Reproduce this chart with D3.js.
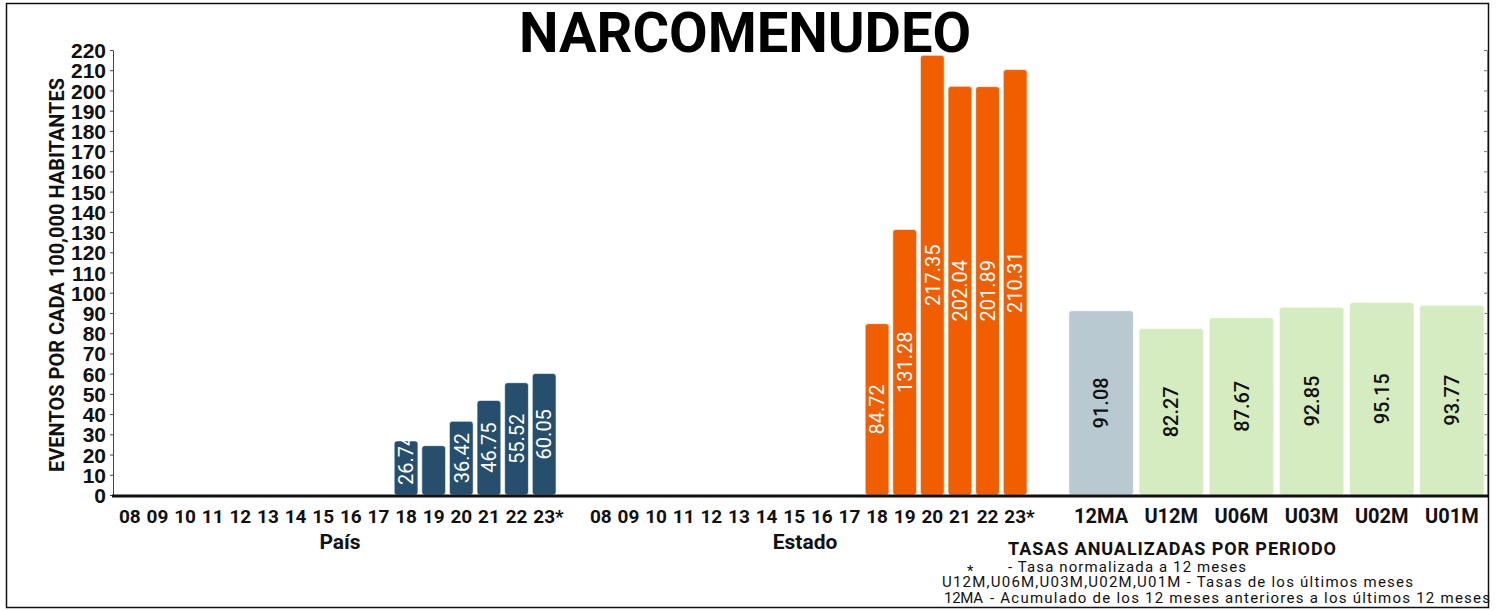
<!DOCTYPE html>
<html>
<head>
<meta charset="utf-8">
<script src="https://cdn.jsdelivr.net/npm/d3@7"></script>
<style>
  body { margin: 0; background: #fff; }
  svg { font-family: Roboto, "Noto Sans", sans-serif; }
</style>
</head>
<body>
<div id="chart"></div>
<script>
// Data
const years = ["08", "09", "10", "11", "12", "13", "14", "15", "16", "17", "18", "19", "20", "21", "22", "23*"];
const paisValues = [0, 0, 0, 0, 0, 0, 0, 0, 0, 0, 26.74, 24.4, 36.42, 46.75, 55.52, 60.05];
const estadoValues = [0, 0, 0, 0, 0, 0, 0, 0, 0, 0, 84.72, 131.28, 217.35, 202.04, 201.89, 210.31];
const periods = ["12MA", "U12M", "U06M", "U03M", "U02M", "U01M"];
const periodValues = [91.08, 82.27, 87.67, 92.85, 95.15, 93.77];
const yTicks = d3.range(0, 221, 10);

const width = 1498, height = 611;
const colPais = "#264f6d", colEstado = "#f05e00", col12MA = "#b9c9d2", colPeriod = "#d5ecc0";

const svg = d3.select("#chart").append("svg")
  .attr("width", width)
  .attr("height", height);

// frame
svg.append("rect")
  .attr("x", 6.5).attr("y", 3.5)
  .attr("width", 1482).attr("height", 604)
  .attr("fill", "none").attr("stroke", "#111").attr("stroke-width", 1.5);

const y = d3.scaleLinear().domain([0, 220]).range([495, 50]);
const xPais = d3.scaleBand().domain(years).range([116, 558]).paddingInner(0.14).paddingOuter(0.07);
const xEstado = d3.scaleBand().domain(years).range([587, 1029]).paddingInner(0.14).paddingOuter(0.07);
const xPeriod = d3.scaleBand().domain(periods).range([1066, 1487]).paddingInner(0.08).paddingOuter(0.04);

// Title
svg.append("text")
  .attr("x", 745).attr("y", 52)
  .attr("text-anchor", "middle")
  .style("font-size", "56px").style("font-weight", 700).style("fill", "#000")
  .text("NARCOMENUDEO");

// Left axis
const yAxis = svg.append("g")
  .attr("transform", "translate(113,0)")
  .call(d3.axisLeft(y).tickValues(yTicks).tickSize(3).tickPadding(4).tickSizeOuter(0));
yAxis.select(".domain").attr("stroke", "#444");
yAxis.selectAll(".tick line").attr("stroke", "#444");
yAxis.selectAll("text")
  .style("font-size", "21px").style("font-weight", 700).style("fill", "#111")
  .attr("dy", "0.36em");

svg.append("text")
  .attr("transform", "translate(64,275) rotate(-90)")
  .attr("text-anchor", "middle")
  .style("font-size", "20px").style("font-weight", 700).style("fill", "#111")
  .text("EVENTOS POR CADA 100,000 HABITANTES");

// Right axis (no labels)
const yAxisR = svg.append("g")
  .attr("transform", "translate(1487,0)")
  .call(d3.axisLeft(y).tickValues(yTicks).tickSize(3).tickFormat("").tickSizeOuter(0));
yAxisR.select(".domain").attr("stroke", "#777");
yAxisR.selectAll(".tick line").attr("stroke", "#777");

let clipId = 0;

function drawBars(scale, labels, values, fill, textFill, textWeight) {
  const g = svg.append("g");
  const items = labels.map((l, i) => ({ label: l, value: values[i] })).filter(d => d.value > 0);
  items.forEach(d => {
    const x0 = scale(d.label), w = scale.bandwidth();
    const y0 = y(d.value), h = y(0) - y(d.value);
    const id = "clip" + (clipId++);
    g.append("clipPath").attr("id", id)
      .append("rect").attr("x", x0).attr("y", y0).attr("width", w).attr("height", h);
    g.append("rect")
      .attr("x", x0).attr("y", y0)
      .attr("width", w).attr("height", h)
      .attr("rx", 3)
      .attr("fill", typeof fill === "function" ? fill(d) : fill)
      .attr("stroke", "#fff").attr("stroke-opacity", 0.6).attr("stroke-width", 1);

    const label = g.append("g")
      .attr("clip-path", "url(#" + id + ")")
      .append("text")
      .attr("text-anchor", "middle")
      .attr("dy", "0.36em")
      .style("font-size", "20px").style("font-weight", textWeight).style("fill", textFill)
      .text(d.value.toFixed(2));
    const len = label.node().getComputedTextLength();
    if (h < len) { label.remove(); return; }
    // keep the label at least 10px above the baseline
    const cy = Math.min(y0 + h / 2, y(0) - 10 - len / 2);
    label.attr("transform", "translate(" + (x0 + w / 2) + "," + cy + ") rotate(-90)");
  });
}

drawBars(xPais, years, paisValues, colPais, "#fff", 400);
drawBars(xEstado, years, estadoValues, colEstado, "#fff", 400);
drawBars(xPeriod, periods, periodValues, d => d.label === "12MA" ? col12MA : colPeriod, "#111", 500);

// Baseline
svg.append("line")
  .attr("x1", 112).attr("x2", 1488)
  .attr("y1", 496).attr("y2", 496)
  .attr("stroke", "#111").attr("stroke-width", 3);

// X labels; a trailing "*" hangs to the right of the centred year
function xLabels(scale, labels, size) {
  const g = svg.append("g");
  labels.forEach(d => {
    const cx = scale(d) + scale.bandwidth() / 2;
    const core = d.replace("*", "");
    const t = g.append("text")
      .attr("x", cx).attr("y", 523)
      .attr("text-anchor", "middle")
      .style("font-size", size).style("font-weight", 700).style("fill", "#111")
      .text(core);
    if (core !== d) {
      const len = t.node().getComputedTextLength();
      g.append("text")
        .attr("x", cx + len / 2).attr("y", 523)
        .style("font-size", size).style("font-weight", 700).style("fill", "#111")
        .text("*");
    }
  });
}
xLabels(xPais, years, "19px");
xLabels(xEstado, years, "19px");
xLabels(xPeriod, periods, "20px");

svg.append("text").attr("x", 340).attr("y", 549).attr("text-anchor", "middle")
  .style("font-size", "21px").style("font-weight", 700).style("fill", "#111").text("País");
svg.append("text").attr("x", 805).attr("y", 549).attr("text-anchor", "middle")
  .style("font-size", "21px").style("font-weight", 700).style("fill", "#111").text("Estado");

// Notes
svg.append("text").attr("x", 1008).attr("y", 555)
  .attr("textLength", 328).attr("lengthAdjust", "spacing")
  .style("font-size", "18px").style("font-weight", 700).style("fill", "#111")
  .text("TASAS ANUALIZADAS POR PERIODO");

const notes = svg.append("g").style("font-size", "15px").style("fill", "#111");
notes.append("text").attr("x", 967).attr("y", 576).text("*");
notes.append("text").attr("x", 1008).attr("y", 572)
  .attr("textLength", 238).attr("lengthAdjust", "spacing")
  .text("- Tasa normalizada a 12 meses");
notes.append("text").attr("x", 942).attr("y", 587)
  .attr("textLength", 471).attr("lengthAdjust", "spacing")
  .text("U12M,U06M,U03M,U02M,U01M - Tasas de los últimos meses");
notes.append("text").attr("x", 944).attr("y", 603)
  .attr("textLength", 39).attr("lengthAdjust", "spacing")
  .text("12MA");
notes.append("text").attr("x", 990).attr("y", 603)
  .attr("textLength", 500).attr("lengthAdjust", "spacing")
  .text("- Acumulado de los 12 meses anteriores a los últimos 12 meses");
</script>
</body>
</html>
